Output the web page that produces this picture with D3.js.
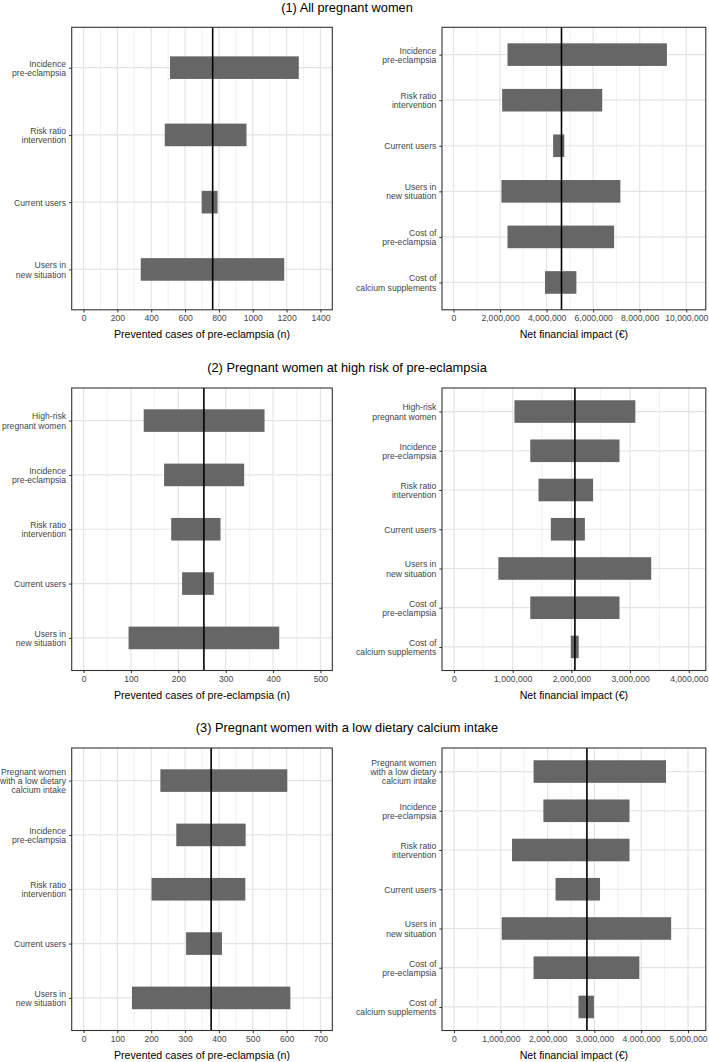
<!DOCTYPE html>
<html>
<head>
<meta charset="utf-8">
<script src="https://cdn.jsdelivr.net/npm/d3@7"></script>
<style>
  html, body { margin: 0; padding: 0; background: #ffffff; }
  svg { display: block; }
  text { font-family: "Liberation Sans", Arial, Helvetica, sans-serif; }
</style>
</head>
<body>
<svg id="chart" width="709" height="1062"></svg>
<script>
// ---------- DATA ----------
const sectionTitles = [
  "(1) All pregnant women",
  "(2) Pregnant women at high risk of pre-eclampsia",
  "(3) Pregnant women with a low dietary calcium intake"
];

// Section 1 – prevented cases
const cases1Labels = ["Incidence\npre-eclampsia", "Risk ratio\nintervention", "Current users", "Users in\nnew situation"];
const cases1Low  = [511, 480, 698, 338];
const cases1High = [1272, 963, 792, 1186];
const cases1Base = 763;
const cases1Ticks = [0, 200, 400, 600, 800, 1000, 1200, 1400];

// Section 1 – net financial impact
const cost1Labels = ["Incidence\npre-eclampsia", "Risk ratio\nintervention", "Current users", "Users in\nnew situation", "Cost of\npre-eclampsia", "Cost of\ncalcium supplements"];
const cost1Low  = [2320000, 2090000, 4280000, 2060000, 2320000, 3930000];
const cost1High = [9170000, 6390000, 4760000, 7170000, 6900000, 5280000];
const cost1Base = 4640000;
const cost1Ticks = [0, 2000000, 4000000, 6000000, 8000000, 10000000];

// Section 2 – prevented cases
const cases2Labels = ["High-risk\npregnant women", "Incidence\npre-eclampsia", "Risk ratio\nintervention", "Current users", "Users in\nnew situation"];
const cases2Low  = [127, 170, 185, 208, 95];
const cases2High = [382, 339, 289, 275, 413];
const cases2Base = 254;
const cases2Ticks = [0, 100, 200, 300, 400, 500];

// Section 2 – net financial impact
const cost2Labels = ["High-risk\npregnant women", "Incidence\npre-eclampsia", "Risk ratio\nintervention", "Current users", "Users in\nnew situation", "Cost of\npre-eclampsia", "Cost of\ncalcium supplements"];
const cost2Low  = [1030000, 1300000, 1440000, 1650000, 756000, 1300000, 1990000];
const cost2High = [3090000, 2820000, 2370000, 2230000, 3360000, 2820000, 2125000];
const cost2Base = 2060000;
const cost2Ticks = [0, 1000000, 2000000, 3000000, 4000000];

// Section 3 – prevented cases
const cases3Labels = ["Pregnant women\nwith a low dietary\ncalcium intake", "Incidence\npre-eclampsia", "Risk ratio\nintervention", "Current users", "Users in\nnew situation"];
const cases3Low  = [227, 274, 201, 303, 143];
const cases3High = [602, 479, 478, 409, 611];
const cases3Base = 377;
const cases3Ticks = [0, 100, 200, 300, 400, 500, 600, 700];

// Section 3 – net financial impact
const cost3Labels = ["Pregnant women\nwith a low dietary\ncalcium intake", "Incidence\npre-eclampsia", "Risk ratio\nintervention", "Current users", "Users in\nnew situation", "Cost of\npre-eclampsia", "Cost of\ncalcium supplements"];
const cost3Low  = [1700000, 1910000, 1240000, 2170000, 1020000, 1700000, 2660000];
const cost3High = [4530000, 3750000, 3750000, 3120000, 4640000, 3960000, 2990000];
const cost3Base = 2840000;
const cost3Ticks = [0, 1000000, 2000000, 3000000, 4000000, 5000000];

const casesAxisTitle = "Prevented cases of pre-eclampsia (n)";
const costAxisTitle = "Net financial impact (€)";

// ---------- LAYOUT ----------
const svg = d3.select("#chart");
const rowTops = [27.3, 388, 748];
const panelH = 282.5;
const leftX = [71.7, 332.3];
const rightX = [442, 705.8];
const titleBaselines = [11.6, 371.5, 731.5];

const panels = [
  { row: 0, x: leftX,  labels: cases1Labels, low: cases1Low, high: cases1High, base: cases1Base, ticks: cases1Ticks, domain: [-70, 1470], minorStep: 100, title: casesAxisTitle, fmt: d3.format("d") },
  { row: 0, x: rightX, labels: cost1Labels,  low: cost1Low,  high: cost1High,  base: cost1Base,  ticks: cost1Ticks,  domain: [-494000, 10840000], minorStep: 1000000, title: costAxisTitle, fmt: d3.format(",") },
  { row: 1, x: leftX,  labels: cases2Labels, low: cases2Low, high: cases2High, base: cases2Base, ticks: cases2Ticks, domain: [-25, 525], minorStep: 50, title: casesAxisTitle, fmt: d3.format("d") },
  { row: 1, x: rightX, labels: cost2Labels,  low: cost2Low,  high: cost2High,  base: cost2Base,  ticks: cost2Ticks,  domain: [-204000, 4290000], minorStep: 500000, title: costAxisTitle, fmt: d3.format(",") },
  { row: 2, x: leftX,  labels: cases3Labels, low: cases3Low, high: cases3High, base: cases3Base, ticks: cases3Ticks, domain: [-35, 735], minorStep: 50, title: casesAxisTitle, fmt: d3.format("d") },
  { row: 2, x: rightX, labels: cost3Labels,  low: cost3Low,  high: cost3High,  base: cost3Base,  ticks: cost3Ticks,  domain: [-256000, 5380000], minorStep: 500000, title: costAxisTitle, fmt: d3.format(",") }
];

// Section titles
sectionTitles.forEach((t, i) => {
  svg.append("text")
    .attr("x", 347)
    .attr("y", titleBaselines[i])
    .attr("text-anchor", "middle")
    .attr("font-size", 12.8)
    .attr("fill", "#000")
    .text(t);
});

const barH = 22.6;
const tickFont = 8.6;
const tickColor = "#444444";

panels.forEach(p => {
  const top = rowTops[p.row];
  const bottom = top + panelH;
  const x = d3.scaleLinear().domain(p.domain).range(p.x);
  const y = d3.scalePoint().domain(p.labels).range([top, bottom]).padding(0.6);
  const g = svg.append("g");

  // background
  g.append("rect").attr("x", p.x[0]).attr("y", top)
    .attr("width", p.x[1] - p.x[0]).attr("height", panelH).attr("fill", "#fff");

  // minor grid
  const minors = [];
  for (let v = p.ticks[0] + p.minorStep; v < p.ticks[p.ticks.length - 1]; v += p.minorStep) {
    if (!p.ticks.some(t => Math.abs(t - v) < 1e-6)) minors.push(v);
  }
  g.selectAll(".minor").data(minors).join("line")
    .attr("x1", d => x(d)).attr("x2", d => x(d))
    .attr("y1", top).attr("y2", bottom)
    .attr("stroke", "#eeeeee").attr("stroke-width", 0.8);

  // major grid vertical
  g.selectAll(".majorv").data(p.ticks).join("line")
    .attr("x1", d => x(d)).attr("x2", d => x(d))
    .attr("y1", top).attr("y2", bottom)
    .attr("stroke", "#e4e4e4").attr("stroke-width", 1.2);

  // major grid horizontal
  g.selectAll(".majorh").data(p.labels).join("line")
    .attr("x1", p.x[0]).attr("x2", p.x[1])
    .attr("y1", d => y(d)).attr("y2", d => y(d))
    .attr("stroke", "#e4e4e4").attr("stroke-width", 1.2);

  // bars
  g.selectAll(".bar").data(p.labels).join("rect")
    .attr("x", (d, i) => x(p.low[i]))
    .attr("width", (d, i) => x(p.high[i]) - x(p.low[i]))
    .attr("y", d => y(d) - barH / 2)
    .attr("height", barH)
    .attr("fill", "#666666");

  // base-case line
  g.append("line")
    .attr("x1", x(p.base)).attr("x2", x(p.base))
    .attr("y1", top).attr("y2", bottom)
    .attr("stroke", "#000").attr("stroke-width", 1.6);

  // panel border
  g.append("rect").attr("x", p.x[0]).attr("y", top)
    .attr("width", p.x[1] - p.x[0]).attr("height", panelH)
    .attr("fill", "none").attr("stroke", "#333333").attr("stroke-width", 1.1);

  // x axis
  const xAxis = d3.axisBottom(x).tickValues(p.ticks).tickFormat(p.fmt)
    .tickSizeInner(2.7).tickSizeOuter(0).tickPadding(2.5);
  const xa = g.append("g").attr("transform", `translate(0,${bottom})`).call(xAxis);
  xa.select(".domain").remove();
  xa.selectAll(".tick line").attr("stroke", "#333333").attr("stroke-width", 1);
  xa.selectAll(".tick text").attr("font-size", tickFont).attr("fill", tickColor)
    .attr("font-family", "Liberation Sans, Arial, sans-serif")
    .attr("dy", null).attr("y", 11.7);

  // y axis
  const yAxis = d3.axisLeft(y).tickSizeInner(2.7).tickSizeOuter(0).tickPadding(3);
  const ya = g.append("g").attr("transform", `translate(${p.x[0]},0)`).call(yAxis);
  ya.select(".domain").remove();
  ya.selectAll(".tick line").attr("stroke", "#333333").attr("stroke-width", 1);
  ya.selectAll(".tick text").each(function(d) {
    const t = d3.select(this);
    const lines = d.split("\n");
    const lh = 9.25;
    t.text(null).attr("font-size", tickFont).attr("fill", tickColor)
      .attr("font-family", "Liberation Sans, Arial, sans-serif")
      .attr("dy", null).attr("x", -5.7).attr("y", 0);
    const start = -(lines.length - 1) * lh / 2 + 3.0;
    lines.forEach((ln, k) => {
      t.append("tspan").attr("x", -5.7).attr("y", start + k * lh).text(ln);
    });
  });

  // axis title
  g.append("text")
    .attr("x", (p.x[0] + p.x[1]) / 2)
    .attr("y", bottom + 28.5)
    .attr("text-anchor", "middle")
    .attr("font-size", 10.6)
    .attr("fill", "#000")
    .text(p.title);
});
</script>
</body>
</html>
